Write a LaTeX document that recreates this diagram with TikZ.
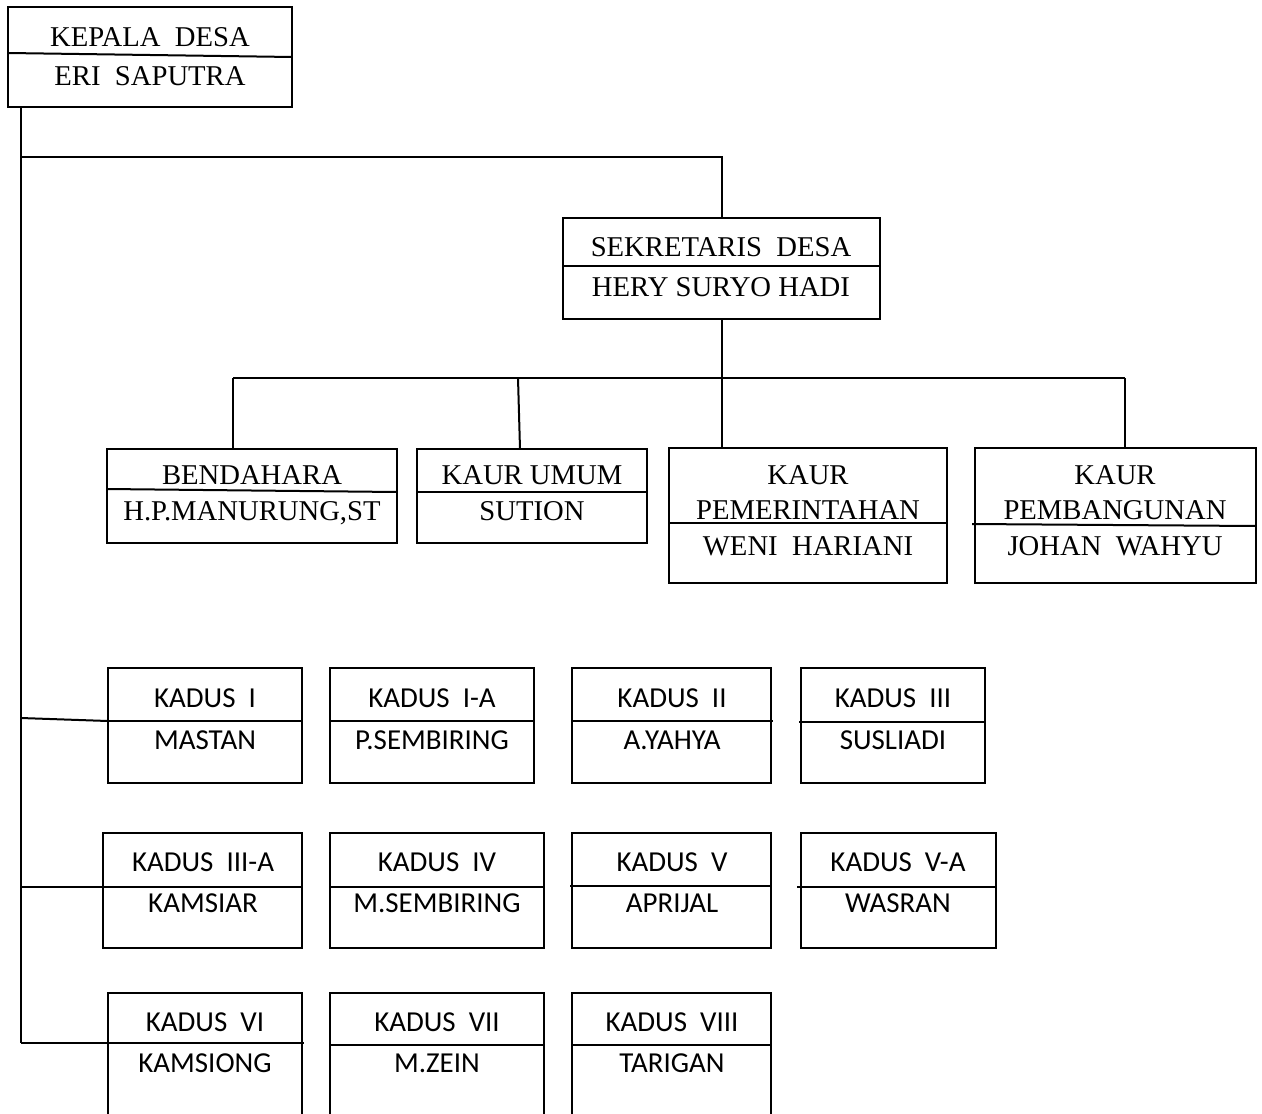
\documentclass[tikz,border=0pt]{standalone}
\usepackage{fontspec}
\newfontfamily\tnr{Liberation Serif}
\newfontfamily\carl{Carlito}
\newcommand\obox[5]{\node[box, anchor=north west, minimum width={(#4-#2)*0.75pt}, minimum height={(#5-#3)*0.75pt}] (#1) at (#2,#3) {};}
\begin{document}
\begin{tikzpicture}[x=0.75pt,y=-0.75pt,
  box/.style={draw, line width=1.5pt, rectangle, inner sep=0pt, outer sep=0pt},
  tn/.style={font=\tnr\fontsize{21.5}{24}\selectfont, inner sep=0pt, text height=14.2pt, text depth=0pt},
  cn/.style={font=\carl\fontsize{21.7}{24}\selectfont, inner sep=0pt, text height=13.9pt, text depth=0pt},
  conn/.style={line width=1.5pt},
  divl/.style={line width=1.5pt}]
\useasboundingbox (0,0) rectangle (1262,1113);
\clip (0,0) rectangle (1262,1113);

% --- Kepala Desa
\obox{kep}{8}{7}{292}{107}
\draw[divl] (8,53) -- (292,57);
\node[tn] (kepT) at (150,37) {KEPALA\ \ DESA};
\node[tn] (kepN) at (150,76) {ERI\ \ SAPUTRA};

% --- Sekretaris
\obox{sek}{563}{218}{880}{319}
\draw[divl] (563,266) -- (880,266);
\node[tn] (sekT) at (721,247) {SEKRETARIS\ \ DESA};
\node[tn] (sekN) at (721,287) {HERY SURYO HADI};

% --- Kaur row
\obox{ben}{107}{449}{397}{543}
\draw[divl] (107,489) -- (397,492);
\node[tn] (benT) at (252,475) {BENDAHARA};
\node[tn] (benN) at (252,511) {H.P.MANURUNG,ST};

\obox{umu}{417}{449}{647}{543}
\draw[divl] (417,492) -- (647,492);
\node[tn] (umuT) at (532,475) {KAUR UMUM};
\node[tn] (umuN) at (532,511) {SUTION};

\obox{pem}{669}{448}{947}{583}
\draw[divl] (669,523) -- (947,523);
\node[tn] (pemT1) at (808,475) {KAUR};
\node[tn] (pemT2) at (808,510) {PEMERINTAHAN};
\node[tn] (pemN) at (808,546) {WENI\ \ HARIANI};

\obox{pbg}{975}{448}{1256}{583}
\draw[divl] (972,524) -- (1256,526);
\node[tn] (pbgT1) at (1115,475) {KAUR};
\node[tn] (pbgT2) at (1115,510) {PEMBANGUNAN};
\node[tn] (pbgN) at (1115,546) {JOHAN\ \ WAHYU};

% --- Kadus row 1
\obox{k1}{108}{668}{302}{783}
\draw[divl] (108,721) -- (302,721);
\node[cn] (k1T) at (205,698) {KADUS\ \ I};
\node[cn] (k1N) at (205,740) {MASTAN};

\obox{k1a}{330}{668}{534}{783}
\draw[divl] (330,721) -- (534,721);
\node[cn] (k1aT) at (432,698) {KADUS\ \ I-A};
\node[cn] (k1aN) at (432,740) {P.SEMBIRING};

\obox{k2}{572}{668}{771}{783}
\draw[divl] (572,721) -- (773,721);
\node[cn] (k2T) at (672,698) {KADUS\ \ II};
\node[cn] (k2N) at (672,740) {A.YAHYA};

\obox{k3}{801}{668}{985}{783}
\draw[divl] (799,722) -- (985,722);
\node[cn] (k3T) at (893,698) {KADUS\ \ III};
\node[cn] (k3N) at (893,740) {SUSLIADI};

% --- Kadus row 2
\obox{k3a}{103}{833}{302}{948}
\draw[divl] (103,887) -- (302,887);
\node[cn] (k3aT) at (203,862) {KADUS\ \ III-A};
\node[cn] (k3aN) at (203,903) {KAMSIAR};

\obox{k4}{330}{833}{544}{948}
\draw[divl] (330,887) -- (544,887);
\node[cn] (k4T) at (437,862) {KADUS\ \ IV};
\node[cn] (k4N) at (437,903) {M.SEMBIRING};

\obox{k5}{572}{833}{771}{948}
\draw[divl] (570,886) -- (771,886);
\node[cn] (k5T) at (672,862) {KADUS\ \ V};
\node[cn] (k5N) at (672,903) {APRIJAL};

\obox{k5a}{801}{833}{996}{948}
\draw[divl] (797,887) -- (996,887);
\node[cn] (k5aT) at (898,862) {KADUS\ \ V-A};
\node[cn] (k5aN) at (898,903) {WASRAN};

% --- Kadus row 3 (cut off at the bottom)
\obox{k6}{108}{993}{302}{1140}
\draw[divl] (108,1043) -- (304,1043);
\node[cn] (k6T) at (205,1022) {KADUS\ \ VI};
\node[cn] (k6N) at (205,1063) {KAMSIONG};

\obox{k7}{330}{993}{544}{1140}
\draw[divl] (330,1045) -- (544,1045);
\node[cn] (k7T) at (437,1022) {KADUS\ \ VII};
\node[cn] (k7N) at (437,1063) {M.ZEIN};

\obox{k8}{572}{993}{771}{1140}
\draw[divl] (572,1045) -- (771,1045);
\node[cn] (k8T) at (672,1022) {KADUS\ \ VIII};
\node[cn] (k8N) at (672,1063) {TARIGAN};

% --- connectors
\coordinate (spTop) at ([xshift=9.75pt]kep.south west);
\coordinate (spA) at (spTop |- 0,157);
\coordinate (spB) at (sek.north |- spA);
\coordinate (spK1) at (spTop |- 0,718);
\coordinate (spK2) at (spTop |- 0,887);
\coordinate (spK3) at (spTop |- 0,1043);
\coordinate (k1L) at (108,721);
\coordinate (k3aL) at (103,887);
\coordinate (k6L) at (108,1043);
\draw[conn] (spTop) -- (spK3);
\draw[conn] (spA) -- (spB) -- (sek.north);
\coordinate (hubM) at (sek.south |- 0,378);
\coordinate (hubL) at (233,378);
\coordinate (hubR) at (1125,378);
\coordinate (hubU) at (518,378);
\draw[conn] (sek.south) -- (hubM);
\draw[conn] (hubL) -- (hubR);
\draw[conn] (hubL) -- (hubL |- ben.north);
\draw[conn] (hubU) -- (520,449);
\draw[conn] (hubM) -- (hubM |- pem.north);
\draw[conn] (hubR) -- (hubR |- pbg.north);
\draw[conn] (spK1) -- (k1L);
\draw[conn] (spK2) -- (k3aL);
\draw[conn] (spK3) -- (k6L);
\end{tikzpicture}
\end{document}
